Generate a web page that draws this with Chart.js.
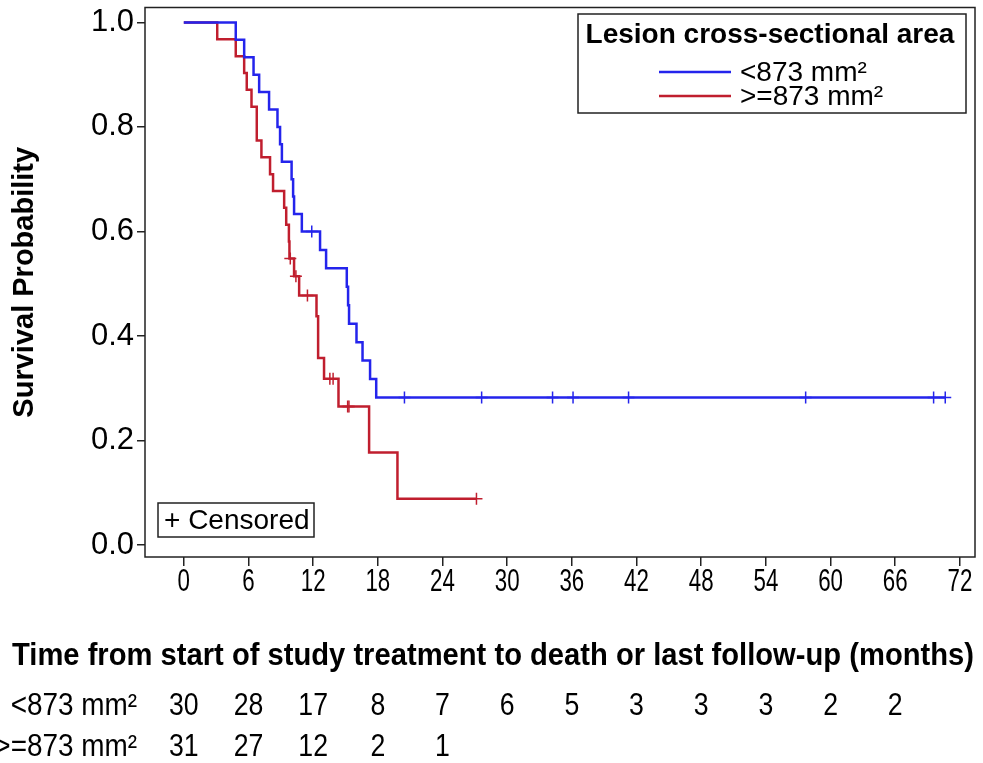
<!DOCTYPE html>
<html>
<head>
<meta charset="utf-8">
<script src="https://cdn.jsdelivr.net/npm/chart.js@4/dist/chart.umd.min.js"></script>
<style>
  html, body { margin: 0; padding: 0; background: #ffffff; }
  #wrap { width: 983px; height: 763px; position: relative; }
</style>
</head>
<body>
<div id="wrap"><canvas id="km" width="983" height="763"></canvas></div>
<script>
// Group names
const groupLabels = ['<873 mm²', '>=873 mm²'];
const groupColors = ['#2424ec', '#c01e2e'];

// Kaplan-Meier steps, <873 mm² group: time (months) and survival after each step
const smallTimes = [0, 4.82, 5.6, 6.47, 6.99, 7.91, 8.69, 8.93, 9.1, 10.0, 10.14, 10.23, 10.95,
  12.64, 13.2, 15.12, 15.24, 15.33, 16.02, 16.58, 17.28, 17.85, 70.64];
const smallSurv = [1, 0.9667, 0.9333, 0.9, 0.8667, 0.8333, 0.8, 0.7667, 0.7333, 0.7, 0.6667, 0.6333, 0.6,
  0.5647, 0.5294, 0.4941, 0.4588, 0.4235, 0.3882, 0.3529, 0.3176, 0.2824, 0.2824];
const smallCensorTimes = [11.87, 20.47, 27.63, 34.21, 36.11, 41.26, 57.69, 69.56, 70.64];
const smallCensorSurv = [0.6, 0.2824, 0.2824, 0.2824, 0.2824, 0.2824, 0.2824, 0.2824, 0.2824];

// Kaplan-Meier steps, >=873 mm² group
const largeTimes = [0, 3.1, 4.82, 5.6, 5.84, 6.28, 6.77, 7.2, 8.0, 8.28, 9.31, 9.5, 9.75, 9.8,
  10.23, 10.7, 12.31, 12.46, 13.01, 14.35, 17.19, 19.82, 27.15];
const largeSurv = [1, 0.9677, 0.9355, 0.9032, 0.871, 0.8387, 0.7742, 0.7419, 0.7097, 0.6774, 0.6452, 0.6129, 0.5806, 0.5484,
  0.5141, 0.4773, 0.4375, 0.358, 0.3182, 0.2652, 0.1768, 0.0884, 0.0884];
const largeCensorTimes = [9.88, 10.4, 11.47, 13.55, 13.85, 15.2, 15.32, 27.15];
const largeCensorSurv = [0.5484, 0.5141, 0.4773, 0.3182, 0.3182, 0.2652, 0.2652, 0.0884];

// Number at risk below the axis
const atRiskTimes = [0, 6, 12, 18, 24, 30, 36, 42, 48, 54, 60, 66];
const smallAtRisk = [30, 28, 17, 8, 7, 6, 5, 3, 3, 3, 2, 2];
const largeAtRisk = [31, 27, 12, 2, 1];

// Axis ticks
const xTicks = [0, 6, 12, 18, 24, 30, 36, 42, 48, 54, 60, 66, 72];
const yTicks = [0, 0.2, 0.4, 0.6, 0.8, 1.0];

const xTitle = 'Time from start of study treatment to death or last follow-up (months)';
const yTitle = 'Survival Probability';
const legendTitle = 'Lesion cross-sectional area';
const censorNote = '+ Censored';

const pairs = (xs, ys) => xs.map((x, i) => ({ x: x, y: ys[i] }));

const FONT = "'Liberation Sans', Arial, Helvetica, sans-serif";

// draw text squeezed horizontally by sx
function squeezed(ctx, text, x, y, font, sx, align) {
  ctx.save();
  ctx.font = font;
  ctx.textAlign = align;
  ctx.textBaseline = 'middle';
  ctx.translate(x, y);
  ctx.scale(sx, 1);
  ctx.fillText(text, 0, 0);
  ctx.restore();
}

const decorations = {
  id: 'kmDecorations',
  afterDraw(chart) {
    const ctx = chart.ctx;
    const a = chart.chartArea;
    const xs = chart.scales.x;
    ctx.save();
    ctx.fillStyle = '#000';
    ctx.strokeStyle = '#222';

    // plot frame
    ctx.lineWidth = 1.5;
    ctx.strokeRect(a.left, a.top, a.right - a.left, a.bottom - a.top);

    // x tick labels
    xs.ticks.forEach(t => {
      squeezed(ctx, String(t.value), xs.getPixelForValue(t.value), 582, '31px ' + FONT, 0.72, 'center');
    });

    // x axis title, fitted to the plot width
    ctx.font = 'bold 32px ' + FONT;
    const w = ctx.measureText(xTitle).width;
    squeezed(ctx, xTitle, 493, 656, 'bold 32px ' + FONT, 962 / w, 'center');

    // number-at-risk rows
    const rows = [[groupLabels[0], smallAtRisk, 706], [groupLabels[1], largeAtRisk, 747]];
    rows.forEach(([label, counts, y]) => {
      squeezed(ctx, label, 137, y, '31px ' + FONT, 0.9, 'right');
      counts.forEach((n, i) => {
        squeezed(ctx, String(n), xs.getPixelForValue(atRiskTimes[i]), y, '31px ' + FONT, 0.86, 'center');
      });
    });

    // legend box
    ctx.lineWidth = 1.5;
    ctx.strokeStyle = '#222';
    ctx.strokeRect(578, 14, 388, 99);
    ctx.font = 'bold 28px ' + FONT;
    ctx.textAlign = 'center';
    ctx.textBaseline = 'middle';
    ctx.fillText(legendTitle, 770, 35);
    chart.data.datasets.slice(0, 2).forEach((ds, i) => {
      const y = 72 + i * 24;
      ctx.strokeStyle = ds.borderColor;
      ctx.lineWidth = 2.5;
      ctx.beginPath();
      ctx.moveTo(659, y);
      ctx.lineTo(731, y);
      ctx.stroke();
      ctx.font = '28px ' + FONT;
      ctx.textAlign = 'left';
      ctx.fillText(ds.label, 740, y + 1);
    });

    // censor note box
    ctx.strokeStyle = '#222';
    ctx.lineWidth = 1.5;
    ctx.strokeRect(158, 503, 156, 34);
    ctx.font = '28px ' + FONT;
    ctx.textAlign = 'left';
    ctx.textBaseline = 'middle';
    ctx.fillText(censorNote, 164, 521);
    ctx.restore();
  }
};

const stepLine = (label, xs, ys, color) => ({
  type: 'line', label: label, data: pairs(xs, ys), stepped: 'before',
  borderColor: color, borderWidth: 2.5, pointRadius: 0, fill: false, tension: 0
});
const censorPts = (label, xs, ys, color) => ({
  type: 'scatter', label: label, data: pairs(xs, ys), pointStyle: 'cross',
  pointRadius: 6, borderColor: color, borderWidth: 1.5, backgroundColor: color, showLine: false
});

new Chart(document.getElementById('km'), {
  data: {
    datasets: [
      stepLine(groupLabels[0], smallTimes, smallSurv, groupColors[0]),
      stepLine(groupLabels[1], largeTimes, largeSurv, groupColors[1]),
      censorPts(groupLabels[0] + ' censored', smallCensorTimes, smallCensorSurv, groupColors[0]),
      censorPts(groupLabels[1] + ' censored', largeCensorTimes, largeCensorSurv, groupColors[1])
    ]
  },
  options: {
    responsive: false,
    animation: false,
    layout: { padding: { top: 5, right: 8, left: 0, bottom: 0 } },
    plugins: { legend: { display: false }, tooltip: { enabled: false } },
    scales: {
      x: {
        type: 'linear', min: -3.6, max: 73.4,
        afterBuildTicks: s => { s.ticks = xTicks.map(v => ({ value: v })); },
        afterFit: s => { s.height = 206; s.paddingLeft = 0; s.paddingRight = 0; },
        border: { display: false },
        grid: { drawOnChartArea: false, drawTicks: true, tickLength: 9, color: '#222', lineWidth: 1.5 },
        ticks: { display: false }
      },
      y: {
        type: 'linear', min: -0.023, max: 1.0286,
        afterBuildTicks: s => { s.ticks = yTicks.map(v => ({ value: v })); },
        afterFit: s => { s.width = 145; s.paddingTop = 0; s.paddingBottom = 0; },
        border: { display: false },
        grid: { drawOnChartArea: false, drawTicks: true, tickLength: 8, color: '#222', lineWidth: 1.5 },
        ticks: {
          color: '#000', padding: 3,
          font: { family: FONT, size: 31 },
          callback: v => Number(v).toFixed(1)
        },
        title: {
          display: true, text: yTitle, color: '#000', padding: { top: 8, bottom: 0 },
          font: { family: FONT, size: 29, weight: 'bold' }
        }
      }
    }
  },
  plugins: [decorations]
});
</script>
</body>
</html>
